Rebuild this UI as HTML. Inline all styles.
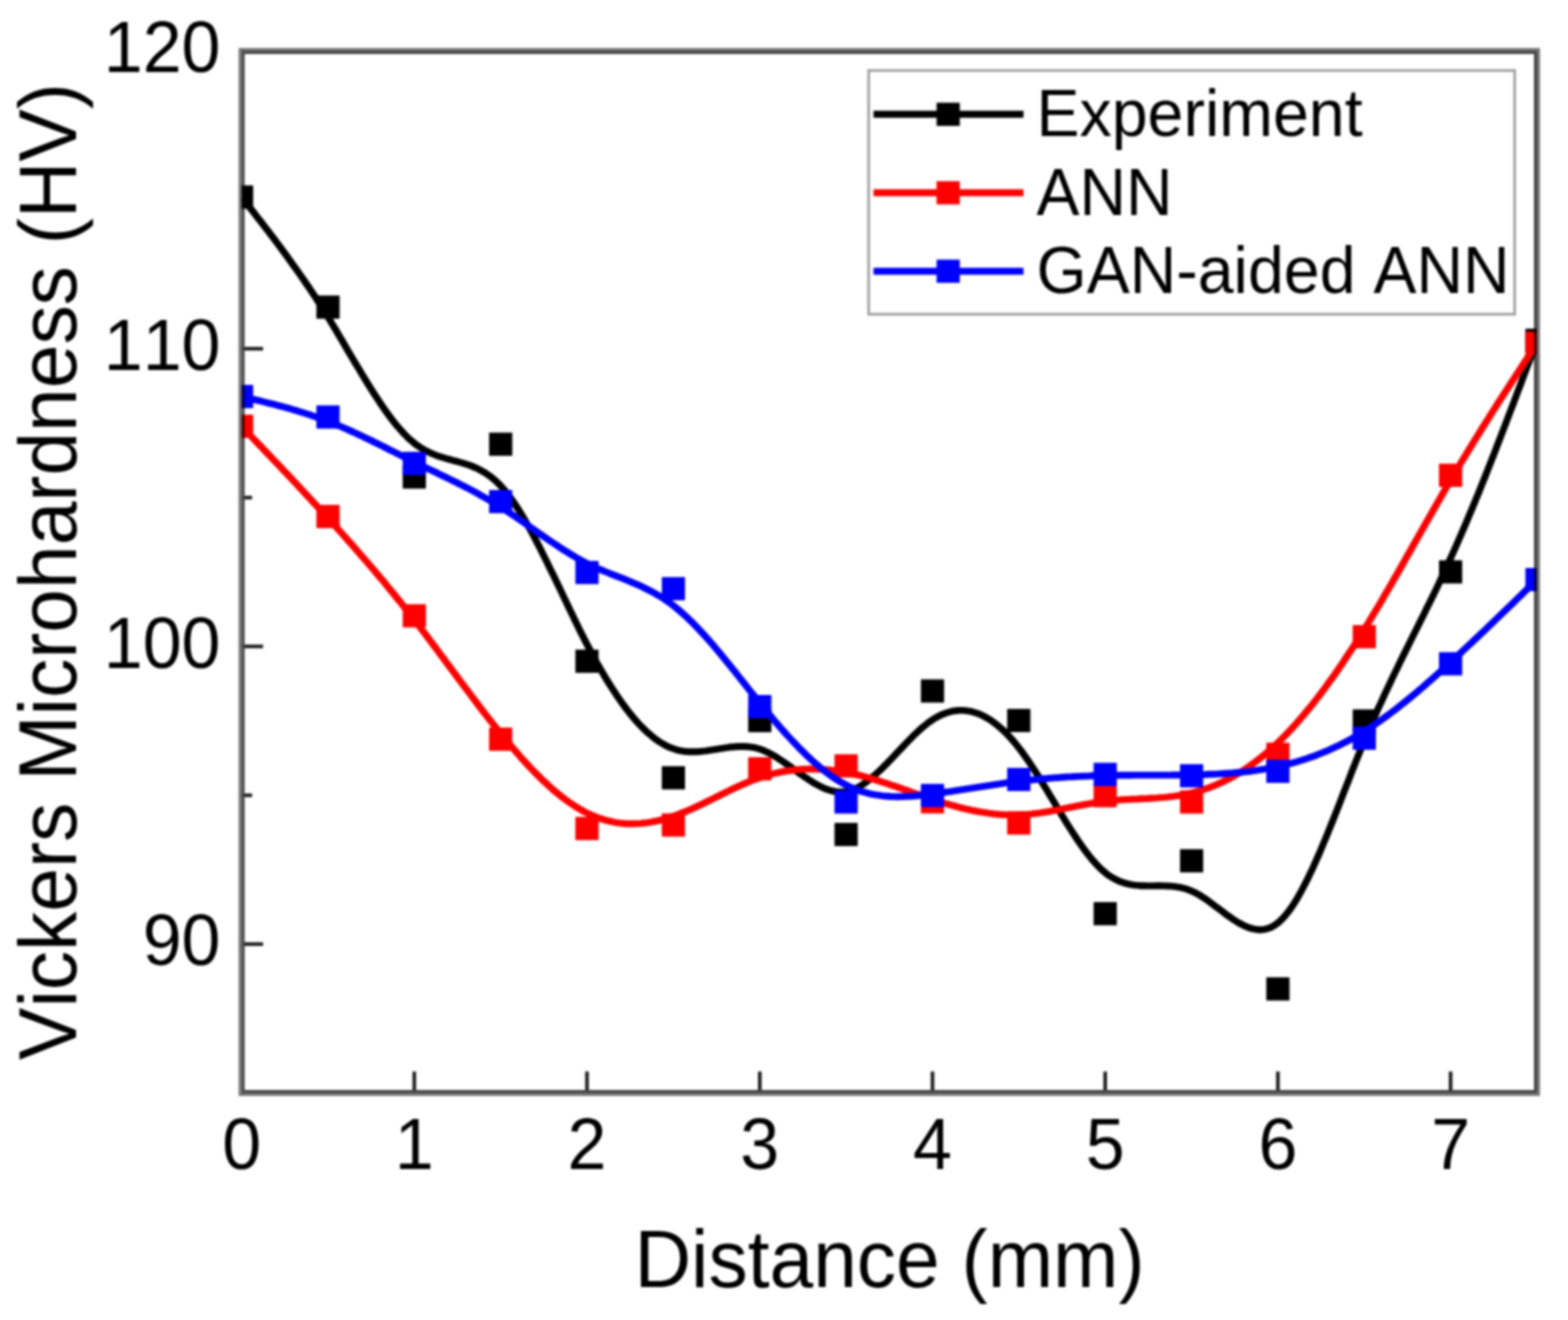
<!DOCTYPE html>
<html lang="en"><head><meta charset="utf-8"><title>Vickers Microhardness vs Distance</title>
<style>html,body{margin:0;padding:0;background:#fff}svg{display:block;filter:blur(0.8px)}text{font-kerning:none}</style></head>
<body>
<svg width="1568" height="1320" viewBox="0 0 1568 1320">
<rect width="1568" height="1320" fill="#fff"/>
<defs><clipPath id="pc"><rect x="241.6" y="51.0" width="1295.4" height="1042.0"/></clipPath></defs>
<line x1="241.6" y1="348.7" x2="263.1" y2="348.7" stroke="#1c1c1c" stroke-width="3.6"/>
<line x1="241.6" y1="646.4" x2="263.1" y2="646.4" stroke="#1c1c1c" stroke-width="3.6"/>
<line x1="241.6" y1="944.1" x2="263.1" y2="944.1" stroke="#1c1c1c" stroke-width="3.6"/>
<line x1="241.6" y1="199.9" x2="252.1" y2="199.9" stroke="#1c1c1c" stroke-width="3.6"/>
<line x1="241.6" y1="497.6" x2="252.1" y2="497.6" stroke="#1c1c1c" stroke-width="3.6"/>
<line x1="241.6" y1="795.3" x2="252.1" y2="795.3" stroke="#1c1c1c" stroke-width="3.6"/>
<line x1="414.3" y1="1093.0" x2="414.3" y2="1071.5" stroke="#1c1c1c" stroke-width="3.6"/>
<line x1="587.0" y1="1093.0" x2="587.0" y2="1071.5" stroke="#1c1c1c" stroke-width="3.6"/>
<line x1="759.8" y1="1093.0" x2="759.8" y2="1071.5" stroke="#1c1c1c" stroke-width="3.6"/>
<line x1="932.5" y1="1093.0" x2="932.5" y2="1071.5" stroke="#1c1c1c" stroke-width="3.6"/>
<line x1="1105.2" y1="1093.0" x2="1105.2" y2="1071.5" stroke="#1c1c1c" stroke-width="3.6"/>
<line x1="1277.9" y1="1093.0" x2="1277.9" y2="1071.5" stroke="#1c1c1c" stroke-width="3.6"/>
<line x1="1450.6" y1="1093.0" x2="1450.6" y2="1071.5" stroke="#1c1c1c" stroke-width="3.6"/>
<rect x="240.1" y="49.5" width="1298.4" height="1045.0" fill="none" stroke="#767676" stroke-width="3"/>
<rect x="243.1" y="52.5" width="1292.4" height="1039.0" fill="none" stroke="#444" stroke-width="3"/>
<g clip-path="url(#pc)" style="mix-blend-mode:multiply">
<path d="M241.6,197.0 L244.8,201.1 L248.1,205.3 L251.3,209.4 L254.6,213.6 L257.8,217.8 L261.1,221.9 L264.3,226.2 L267.6,230.4 L270.8,234.6 L274.1,238.9 L277.3,243.2 L280.6,247.6 L283.8,252.0 L287.1,256.4 L290.3,260.9 L293.5,265.4 L296.8,270.0 L300.0,274.6 L303.3,279.3 L306.5,284.0 L309.8,288.8 L313.0,293.7 L316.3,298.6 L319.5,303.7 L322.8,308.8 L326.0,313.9 L329.3,319.2 L332.5,324.5 L335.8,329.9 L339.0,335.4 L342.2,340.8 L345.5,346.4 L348.7,351.9 L352.0,357.4 L355.2,362.9 L358.5,368.3 L361.7,373.8 L365.0,379.1 L368.2,384.4 L371.5,389.6 L374.7,394.7 L378.0,399.7 L381.2,404.5 L384.5,409.2 L387.7,413.7 L390.9,418.1 L394.2,422.3 L397.4,426.3 L400.7,430.0 L403.9,433.6 L407.2,436.9 L410.4,439.9 L413.7,442.7 L416.9,445.2 L420.2,447.4 L423.4,449.4 L426.7,451.2 L429.9,452.7 L433.2,454.1 L436.4,455.4 L439.6,456.5 L442.9,457.5 L446.1,458.5 L449.4,459.4 L452.6,460.3 L455.9,461.1 L459.1,462.0 L462.4,463.0 L465.6,464.0 L468.9,465.1 L472.1,466.3 L475.4,467.7 L478.6,469.2 L481.8,470.9 L485.1,472.8 L488.3,475.0 L491.6,477.4 L494.8,480.1 L498.1,483.2 L501.3,486.5 L504.6,490.2 L507.8,494.3 L511.1,498.6 L514.3,503.3 L517.6,508.2 L520.8,513.3 L524.1,518.8 L527.3,524.4 L530.5,530.2 L533.8,536.2 L537.0,542.4 L540.3,548.7 L543.5,555.2 L546.8,561.7 L550.0,568.4 L553.3,575.1 L556.5,581.8 L559.8,588.6 L563.0,595.4 L566.3,602.2 L569.5,609.0 L572.8,615.8 L576.0,622.4 L579.2,629.1 L582.5,635.6 L585.7,641.9 L589.0,648.2 L592.2,654.3 L595.5,660.3 L598.7,666.1 L602.0,671.7 L605.2,677.2 L608.5,682.6 L611.7,687.7 L615.0,692.7 L618.2,697.6 L621.5,702.2 L624.7,706.6 L627.9,710.9 L631.2,715.0 L634.4,718.9 L637.7,722.6 L640.9,726.0 L644.2,729.3 L647.4,732.4 L650.7,735.2 L653.9,737.9 L657.2,740.3 L660.4,742.4 L663.7,744.4 L666.9,746.1 L670.2,747.6 L673.4,748.8 L676.6,749.8 L679.9,750.6 L683.1,751.2 L686.4,751.5 L689.6,751.7 L692.9,751.8 L696.1,751.7 L699.4,751.5 L702.6,751.2 L705.9,750.8 L709.1,750.3 L712.4,749.8 L715.6,749.3 L718.9,748.8 L722.1,748.3 L725.3,747.8 L728.6,747.3 L731.8,747.0 L735.1,746.7 L738.3,746.5 L741.6,746.4 L744.8,746.5 L748.1,746.7 L751.3,747.1 L754.6,747.7 L757.8,748.5 L761.1,749.6 L764.3,750.8 L767.6,752.3 L770.8,754.0 L774.0,755.8 L777.3,757.8 L780.5,759.9 L783.8,762.1 L787.0,764.4 L790.3,766.7 L793.5,769.0 L796.8,771.4 L800.0,773.7 L803.3,776.0 L806.5,778.2 L809.8,780.3 L813.0,782.4 L816.3,784.3 L819.5,786.0 L822.7,787.6 L826.0,789.0 L829.2,790.1 L832.5,791.0 L835.7,791.6 L839.0,792.0 L842.2,792.0 L845.5,791.7 L848.7,791.0 L852.0,790.0 L855.2,788.7 L858.5,787.1 L861.7,785.2 L865.0,783.0 L868.2,780.6 L871.4,778.0 L874.7,775.2 L877.9,772.3 L881.2,769.2 L884.4,766.0 L887.7,762.7 L890.9,759.3 L894.2,755.9 L897.4,752.4 L900.7,749.0 L903.9,745.6 L907.2,742.2 L910.4,738.9 L913.6,735.6 L916.9,732.5 L920.1,729.5 L923.4,726.7 L926.6,724.1 L929.9,721.6 L933.1,719.4 L936.4,717.4 L939.6,715.7 L942.9,714.2 L946.1,713.0 L949.4,712.0 L952.6,711.2 L955.9,710.7 L959.1,710.4 L962.3,710.4 L965.6,710.6 L968.8,711.1 L972.1,711.7 L975.3,712.7 L978.6,713.8 L981.8,715.2 L985.1,716.9 L988.3,718.7 L991.6,720.8 L994.8,723.2 L998.1,725.8 L1001.3,728.6 L1004.6,731.6 L1007.8,734.9 L1011.0,738.4 L1014.3,742.1 L1017.5,746.1 L1020.8,750.3 L1024.0,754.8 L1027.3,759.4 L1030.5,764.2 L1033.8,769.1 L1037.0,774.2 L1040.3,779.4 L1043.5,784.7 L1046.8,790.0 L1050.0,795.4 L1053.3,800.8 L1056.5,806.2 L1059.7,811.6 L1063.0,817.0 L1066.2,822.3 L1069.5,827.5 L1072.7,832.5 L1076.0,837.5 L1079.2,842.3 L1082.5,846.9 L1085.7,851.4 L1089.0,855.6 L1092.2,859.6 L1095.5,863.3 L1098.7,866.7 L1102.0,869.9 L1105.2,872.7 L1108.4,875.2 L1111.7,877.3 L1114.9,879.1 L1118.2,880.7 L1121.4,882.0 L1124.7,883.1 L1127.9,883.9 L1131.2,884.6 L1134.4,885.1 L1137.7,885.4 L1140.9,885.7 L1144.2,885.8 L1147.4,885.9 L1150.7,885.9 L1153.9,885.9 L1157.1,885.8 L1160.4,885.8 L1163.6,885.9 L1166.9,886.0 L1170.1,886.1 L1173.4,886.4 L1176.6,886.8 L1179.9,887.4 L1183.1,888.1 L1186.4,889.0 L1189.6,890.2 L1192.9,891.6 L1196.1,893.2 L1199.4,895.0 L1202.6,897.1 L1205.8,899.2 L1209.1,901.5 L1212.3,903.9 L1215.6,906.4 L1218.8,908.8 L1222.1,911.3 L1225.3,913.8 L1228.6,916.1 L1231.8,918.4 L1235.1,920.6 L1238.3,922.6 L1241.6,924.4 L1244.8,926.0 L1248.1,927.4 L1251.3,928.4 L1254.5,929.2 L1257.8,929.7 L1261.0,929.7 L1264.3,929.4 L1267.5,928.6 L1270.8,927.4 L1274.0,925.7 L1277.3,923.4 L1280.5,920.6 L1283.8,917.3 L1287.0,913.4 L1290.3,909.1 L1293.5,904.3 L1296.8,899.1 L1300.0,893.5 L1303.2,887.5 L1306.5,881.2 L1309.7,874.6 L1313.0,867.6 L1316.2,860.4 L1319.5,853.0 L1322.7,845.3 L1326.0,837.5 L1329.2,829.5 L1332.5,821.4 L1335.7,813.2 L1339.0,804.9 L1342.2,796.5 L1345.4,788.2 L1348.7,779.9 L1351.9,771.5 L1355.2,763.3 L1358.4,755.2 L1361.7,747.1 L1364.9,739.2 L1368.2,731.5 L1371.4,723.9 L1374.7,716.5 L1377.9,709.2 L1381.2,702.1 L1384.4,695.0 L1387.7,688.1 L1390.9,681.2 L1394.1,674.4 L1397.4,667.7 L1400.6,661.0 L1403.9,654.4 L1407.1,647.9 L1410.4,641.3 L1413.6,634.8 L1416.9,628.3 L1420.1,621.7 L1423.4,615.2 L1426.6,608.6 L1429.9,602.0 L1433.1,595.4 L1436.4,588.7 L1439.6,581.9 L1442.8,575.0 L1446.1,568.1 L1449.3,561.0 L1452.6,553.8 L1455.8,546.6 L1459.1,539.2 L1462.3,531.7 L1465.6,524.1 L1468.8,516.4 L1472.1,508.6 L1475.3,500.7 L1478.6,492.8 L1481.8,484.7 L1485.1,476.6 L1488.3,468.4 L1491.5,460.2 L1494.8,451.9 L1498.0,443.5 L1501.3,435.1 L1504.5,426.6 L1507.8,418.1 L1511.0,409.6 L1514.3,401.0 L1517.5,392.4 L1520.8,383.7 L1524.0,375.1 L1527.3,366.4 L1530.5,357.7 L1533.8,349.0 L1537.0,340.3" fill="none" stroke="#000" stroke-width="6.9" stroke-linejoin="round"/>
<rect x="230.0" y="185.4" width="23.2" height="23.2" fill="#000"/>
<rect x="316.4" y="295.5" width="23.2" height="23.2" fill="#000"/>
<rect x="402.7" y="465.4" width="23.2" height="23.2" fill="#000"/>
<rect x="489.1" y="432.6" width="23.2" height="23.2" fill="#000"/>
<rect x="575.4" y="649.6" width="23.2" height="23.2" fill="#000"/>
<rect x="661.8" y="766.2" width="23.2" height="23.2" fill="#000"/>
<rect x="748.2" y="709.0" width="23.2" height="23.2" fill="#000"/>
<rect x="834.5" y="822.9" width="23.2" height="23.2" fill="#000"/>
<rect x="920.9" y="679.4" width="23.2" height="23.2" fill="#000"/>
<rect x="1007.2" y="708.9" width="23.2" height="23.2" fill="#000"/>
<rect x="1093.6" y="902.1" width="23.2" height="23.2" fill="#000"/>
<rect x="1180.0" y="849.2" width="23.2" height="23.2" fill="#000"/>
<rect x="1266.3" y="977.3" width="23.2" height="23.2" fill="#000"/>
<rect x="1352.7" y="709.4" width="23.2" height="23.2" fill="#000"/>
<rect x="1439.0" y="560.3" width="23.2" height="23.2" fill="#000"/>
<rect x="1525.4" y="328.7" width="23.2" height="23.2" fill="#000"/>
<path d="M241.6,426.3 L244.8,429.7 L248.1,433.1 L251.3,436.5 L254.6,439.9 L257.8,443.3 L261.1,446.7 L264.3,450.1 L267.6,453.5 L270.8,456.9 L274.1,460.3 L277.3,463.7 L280.6,467.1 L283.8,470.6 L287.1,474.0 L290.3,477.4 L293.5,480.9 L296.8,484.3 L300.0,487.8 L303.3,491.3 L306.5,494.8 L309.8,498.3 L313.0,501.8 L316.3,505.3 L319.5,508.8 L322.8,512.3 L326.0,515.9 L329.3,519.4 L332.5,523.0 L335.8,526.6 L339.0,530.2 L342.2,533.8 L345.5,537.5 L348.7,541.1 L352.0,544.8 L355.2,548.5 L358.5,552.2 L361.7,555.9 L365.0,559.7 L368.2,563.4 L371.5,567.2 L374.7,571.0 L378.0,574.9 L381.2,578.7 L384.5,582.6 L387.7,586.6 L390.9,590.5 L394.2,594.5 L397.4,598.5 L400.7,602.5 L403.9,606.6 L407.2,610.7 L410.4,614.8 L413.7,619.0 L416.9,623.2 L420.2,627.4 L423.4,631.7 L426.7,635.9 L429.9,640.2 L433.2,644.6 L436.4,648.9 L439.6,653.3 L442.9,657.6 L446.1,662.0 L449.4,666.4 L452.6,670.7 L455.9,675.1 L459.1,679.5 L462.4,683.8 L465.6,688.2 L468.9,692.5 L472.1,696.8 L475.4,701.1 L478.6,705.4 L481.8,709.6 L485.1,713.8 L488.3,718.0 L491.6,722.1 L494.8,726.2 L498.1,730.3 L501.3,734.3 L504.6,738.3 L507.8,742.2 L511.1,746.0 L514.3,749.8 L517.6,753.6 L520.8,757.3 L524.1,760.9 L527.3,764.4 L530.5,767.9 L533.8,771.2 L537.0,774.5 L540.3,777.8 L543.5,780.9 L546.8,783.9 L550.0,786.9 L553.3,789.8 L556.5,792.5 L559.8,795.2 L563.0,797.7 L566.3,800.2 L569.5,802.5 L572.8,804.7 L576.0,806.8 L579.2,808.8 L582.5,810.6 L585.7,812.4 L589.0,814.0 L592.2,815.4 L595.5,816.8 L598.7,818.0 L602.0,819.1 L605.2,820.1 L608.5,820.9 L611.7,821.7 L615.0,822.3 L618.2,822.8 L621.5,823.2 L624.7,823.5 L627.9,823.7 L631.2,823.7 L634.4,823.7 L637.7,823.6 L640.9,823.4 L644.2,823.0 L647.4,822.6 L650.7,822.1 L653.9,821.5 L657.2,820.9 L660.4,820.1 L663.7,819.2 L666.9,818.3 L670.2,817.3 L673.4,816.2 L676.6,815.1 L679.9,813.8 L683.1,812.5 L686.4,811.2 L689.6,809.8 L692.9,808.3 L696.1,806.9 L699.4,805.3 L702.6,803.8 L705.9,802.2 L709.1,800.6 L712.4,799.0 L715.6,797.4 L718.9,795.8 L722.1,794.2 L725.3,792.6 L728.6,791.0 L731.8,789.4 L735.1,787.9 L738.3,786.4 L741.6,784.9 L744.8,783.5 L748.1,782.1 L751.3,780.8 L754.6,779.6 L757.8,778.4 L761.1,777.2 L764.3,776.2 L767.6,775.2 L770.8,774.3 L774.0,773.5 L777.3,772.8 L780.5,772.1 L783.8,771.5 L787.0,770.9 L790.3,770.5 L793.5,770.1 L796.8,769.7 L800.0,769.5 L803.3,769.3 L806.5,769.1 L809.8,769.0 L813.0,769.0 L816.3,769.1 L819.5,769.2 L822.7,769.4 L826.0,769.6 L829.2,769.9 L832.5,770.3 L835.7,770.7 L839.0,771.1 L842.2,771.7 L845.5,772.2 L848.7,772.9 L852.0,773.6 L855.2,774.3 L858.5,775.1 L861.7,775.9 L865.0,776.8 L868.2,777.7 L871.4,778.6 L874.7,779.6 L877.9,780.6 L881.2,781.7 L884.4,782.7 L887.7,783.8 L890.9,784.9 L894.2,786.0 L897.4,787.1 L900.7,788.3 L903.9,789.4 L907.2,790.6 L910.4,791.7 L913.6,792.9 L916.9,794.0 L920.1,795.1 L923.4,796.3 L926.6,797.4 L929.9,798.5 L933.1,799.6 L936.4,800.6 L939.6,801.7 L942.9,802.7 L946.1,803.7 L949.4,804.6 L952.6,805.5 L955.9,806.4 L959.1,807.3 L962.3,808.1 L965.6,808.9 L968.8,809.6 L972.1,810.4 L975.3,811.0 L978.6,811.6 L981.8,812.2 L985.1,812.7 L988.3,813.2 L991.6,813.6 L994.8,814.0 L998.1,814.3 L1001.3,814.6 L1004.6,814.8 L1007.8,814.9 L1011.0,815.0 L1014.3,815.0 L1017.5,815.0 L1020.8,814.8 L1024.0,814.6 L1027.3,814.4 L1030.5,814.1 L1033.8,813.7 L1037.0,813.3 L1040.3,812.9 L1043.5,812.4 L1046.8,811.9 L1050.0,811.3 L1053.3,810.7 L1056.5,810.1 L1059.7,809.5 L1063.0,808.8 L1066.2,808.2 L1069.5,807.5 L1072.7,806.9 L1076.0,806.2 L1079.2,805.6 L1082.5,805.0 L1085.7,804.4 L1089.0,803.8 L1092.2,803.2 L1095.5,802.7 L1098.7,802.2 L1102.0,801.7 L1105.2,801.3 L1108.4,800.9 L1111.7,800.6 L1114.9,800.3 L1118.2,800.1 L1121.4,799.8 L1124.7,799.6 L1127.9,799.4 L1131.2,799.3 L1134.4,799.1 L1137.7,799.0 L1140.9,798.8 L1144.2,798.6 L1147.4,798.5 L1150.7,798.3 L1153.9,798.1 L1157.1,797.9 L1160.4,797.6 L1163.6,797.4 L1166.9,797.1 L1170.1,796.7 L1173.4,796.3 L1176.6,795.8 L1179.9,795.3 L1183.1,794.8 L1186.4,794.2 L1189.6,793.5 L1192.9,792.7 L1196.1,791.8 L1199.4,790.9 L1202.6,789.9 L1205.8,788.8 L1209.1,787.7 L1212.3,786.4 L1215.6,785.1 L1218.8,783.7 L1222.1,782.2 L1225.3,780.6 L1228.6,779.0 L1231.8,777.2 L1235.1,775.4 L1238.3,773.5 L1241.6,771.5 L1244.8,769.4 L1248.1,767.2 L1251.3,764.9 L1254.5,762.5 L1257.8,760.0 L1261.0,757.5 L1264.3,754.8 L1267.5,752.1 L1270.8,749.2 L1274.0,746.3 L1277.3,743.3 L1280.5,740.1 L1283.8,736.9 L1287.0,733.6 L1290.3,730.1 L1293.5,726.6 L1296.8,723.0 L1300.0,719.3 L1303.2,715.5 L1306.5,711.6 L1309.7,707.7 L1313.0,703.6 L1316.2,699.5 L1319.5,695.3 L1322.7,691.0 L1326.0,686.6 L1329.2,682.1 L1332.5,677.6 L1335.7,673.0 L1339.0,668.3 L1342.2,663.6 L1345.4,658.7 L1348.7,653.8 L1351.9,648.9 L1355.2,643.8 L1358.4,638.7 L1361.7,633.6 L1364.9,628.3 L1368.2,623.1 L1371.4,617.7 L1374.7,612.3 L1377.9,606.9 L1381.2,601.4 L1384.4,595.8 L1387.7,590.3 L1390.9,584.7 L1394.1,579.0 L1397.4,573.4 L1400.6,567.7 L1403.9,562.0 L1407.1,556.3 L1410.4,550.5 L1413.6,544.8 L1416.9,539.1 L1420.1,533.3 L1423.4,527.6 L1426.6,521.9 L1429.9,516.2 L1433.1,510.5 L1436.4,504.8 L1439.6,499.2 L1442.8,493.5 L1446.1,487.9 L1449.3,482.4 L1452.6,476.9 L1455.8,471.4 L1459.1,466.0 L1462.3,460.6 L1465.6,455.2 L1468.8,449.9 L1472.1,444.6 L1475.3,439.3 L1478.6,434.1 L1481.8,428.9 L1485.1,423.7 L1488.3,418.6 L1491.5,413.4 L1494.8,408.3 L1498.0,403.2 L1501.3,398.2 L1504.5,393.1 L1507.8,388.1 L1511.0,383.1 L1514.3,378.1 L1517.5,373.1 L1520.8,368.1 L1524.0,363.1 L1527.3,358.1 L1530.5,353.1 L1533.8,348.2 L1537.0,343.2" fill="none" stroke="#ff0000" stroke-width="6.9" stroke-linejoin="round"/>
<rect x="230.0" y="414.7" width="23.2" height="23.2" fill="#ff0000"/>
<rect x="316.4" y="504.9" width="23.2" height="23.2" fill="#ff0000"/>
<rect x="402.7" y="604.2" width="23.2" height="23.2" fill="#ff0000"/>
<rect x="489.1" y="727.6" width="23.2" height="23.2" fill="#ff0000"/>
<rect x="575.4" y="816.9" width="23.2" height="23.2" fill="#ff0000"/>
<rect x="661.8" y="813.4" width="23.2" height="23.2" fill="#ff0000"/>
<rect x="748.2" y="757.2" width="23.2" height="23.2" fill="#ff0000"/>
<rect x="834.5" y="754.3" width="23.2" height="23.2" fill="#ff0000"/>
<rect x="920.9" y="790.2" width="23.2" height="23.2" fill="#ff0000"/>
<rect x="1007.2" y="811.4" width="23.2" height="23.2" fill="#ff0000"/>
<rect x="1093.6" y="784.1" width="23.2" height="23.2" fill="#ff0000"/>
<rect x="1180.0" y="790.4" width="23.2" height="23.2" fill="#ff0000"/>
<rect x="1266.3" y="742.7" width="23.2" height="23.2" fill="#ff0000"/>
<rect x="1352.7" y="625.1" width="23.2" height="23.2" fill="#ff0000"/>
<rect x="1439.0" y="463.7" width="23.2" height="23.2" fill="#ff0000"/>
<rect x="1525.4" y="331.6" width="23.2" height="23.2" fill="#ff0000"/>
<path d="M241.6,396.5 L244.8,397.3 L248.1,398.0 L251.3,398.8 L254.6,399.6 L257.8,400.4 L261.1,401.2 L264.3,402.0 L267.6,402.8 L270.8,403.6 L274.1,404.4 L277.3,405.3 L280.6,406.1 L283.8,407.0 L287.1,407.9 L290.3,408.8 L293.5,409.8 L296.8,410.7 L300.0,411.7 L303.3,412.7 L306.5,413.7 L309.8,414.8 L313.0,415.9 L316.3,417.0 L319.5,418.2 L322.8,419.4 L326.0,420.6 L329.3,421.8 L332.5,423.1 L335.8,424.4 L339.0,425.8 L342.2,427.2 L345.5,428.6 L348.7,430.0 L352.0,431.5 L355.2,433.0 L358.5,434.5 L361.7,436.0 L365.0,437.6 L368.2,439.1 L371.5,440.7 L374.7,442.3 L378.0,443.9 L381.2,445.5 L384.5,447.1 L387.7,448.8 L390.9,450.4 L394.2,452.0 L397.4,453.6 L400.7,455.3 L403.9,456.9 L407.2,458.5 L410.4,460.1 L413.7,461.7 L416.9,463.3 L420.2,464.9 L423.4,466.4 L426.7,468.0 L429.9,469.6 L433.2,471.1 L436.4,472.7 L439.6,474.3 L442.9,475.8 L446.1,477.4 L449.4,479.0 L452.6,480.6 L455.9,482.2 L459.1,483.8 L462.4,485.5 L465.6,487.1 L468.9,488.8 L472.1,490.5 L475.4,492.3 L478.6,494.1 L481.8,495.9 L485.1,497.7 L488.3,499.6 L491.6,501.5 L494.8,503.4 L498.1,505.4 L501.3,507.5 L504.6,509.5 L507.8,511.7 L511.1,513.8 L514.3,516.0 L517.6,518.2 L520.8,520.5 L524.1,522.7 L527.3,525.0 L530.5,527.3 L533.8,529.6 L537.0,531.8 L540.3,534.1 L543.5,536.4 L546.8,538.6 L550.0,540.8 L553.3,543.0 L556.5,545.2 L559.8,547.4 L563.0,549.5 L566.3,551.5 L569.5,553.5 L572.8,555.5 L576.0,557.4 L579.2,559.2 L582.5,561.0 L585.7,562.7 L589.0,564.4 L592.2,565.9 L595.5,567.4 L598.7,568.8 L602.0,570.2 L605.2,571.6 L608.5,572.9 L611.7,574.2 L615.0,575.5 L618.2,576.8 L621.5,578.0 L624.7,579.3 L627.9,580.6 L631.2,582.0 L634.4,583.4 L637.7,584.8 L640.9,586.2 L644.2,587.8 L647.4,589.4 L650.7,591.1 L653.9,592.8 L657.2,594.7 L660.4,596.6 L663.7,598.7 L666.9,600.9 L670.2,603.2 L673.4,605.6 L676.6,608.2 L679.9,611.0 L683.1,613.8 L686.4,616.8 L689.6,619.9 L692.9,623.1 L696.1,626.4 L699.4,629.9 L702.6,633.4 L705.9,636.9 L709.1,640.6 L712.4,644.3 L715.6,648.1 L718.9,652.0 L722.1,655.9 L725.3,659.9 L728.6,663.9 L731.8,667.9 L735.1,671.9 L738.3,676.0 L741.6,680.1 L744.8,684.2 L748.1,688.3 L751.3,692.3 L754.6,696.4 L757.8,700.4 L761.1,704.5 L764.3,708.4 L767.6,712.4 L770.8,716.3 L774.0,720.1 L777.3,723.9 L780.5,727.7 L783.8,731.4 L787.0,735.0 L790.3,738.5 L793.5,742.0 L796.8,745.4 L800.0,748.8 L803.3,752.0 L806.5,755.2 L809.8,758.3 L813.0,761.2 L816.3,764.1 L819.5,766.9 L822.7,769.5 L826.0,772.1 L829.2,774.5 L832.5,776.8 L835.7,779.0 L839.0,781.0 L842.2,782.9 L845.5,784.7 L848.7,786.3 L852.0,787.8 L855.2,789.1 L858.5,790.4 L861.7,791.5 L865.0,792.4 L868.2,793.3 L871.4,794.1 L874.7,794.7 L877.9,795.2 L881.2,795.7 L884.4,796.1 L887.7,796.3 L890.9,796.5 L894.2,796.6 L897.4,796.7 L900.7,796.6 L903.9,796.6 L907.2,796.4 L910.4,796.2 L913.6,796.0 L916.9,795.7 L920.1,795.4 L923.4,795.0 L926.6,794.7 L929.9,794.3 L933.1,793.8 L936.4,793.4 L939.6,793.0 L942.9,792.5 L946.1,792.0 L949.4,791.6 L952.6,791.1 L955.9,790.6 L959.1,790.1 L962.3,789.6 L965.6,789.1 L968.8,788.6 L972.1,788.1 L975.3,787.6 L978.6,787.1 L981.8,786.6 L985.1,786.1 L988.3,785.6 L991.6,785.1 L994.8,784.6 L998.1,784.1 L1001.3,783.7 L1004.6,783.2 L1007.8,782.7 L1011.0,782.3 L1014.3,781.9 L1017.5,781.5 L1020.8,781.1 L1024.0,780.7 L1027.3,780.3 L1030.5,780.0 L1033.8,779.7 L1037.0,779.3 L1040.3,779.0 L1043.5,778.7 L1046.8,778.5 L1050.0,778.2 L1053.3,777.9 L1056.5,777.7 L1059.7,777.5 L1063.0,777.2 L1066.2,777.0 L1069.5,776.9 L1072.7,776.7 L1076.0,776.5 L1079.2,776.4 L1082.5,776.2 L1085.7,776.1 L1089.0,776.0 L1092.2,775.8 L1095.5,775.7 L1098.7,775.6 L1102.0,775.6 L1105.2,775.5 L1108.4,775.4 L1111.7,775.4 L1114.9,775.3 L1118.2,775.3 L1121.4,775.2 L1124.7,775.2 L1127.9,775.2 L1131.2,775.2 L1134.4,775.1 L1137.7,775.1 L1140.9,775.1 L1144.2,775.1 L1147.4,775.1 L1150.7,775.1 L1153.9,775.1 L1157.1,775.1 L1160.4,775.1 L1163.6,775.1 L1166.9,775.1 L1170.1,775.1 L1173.4,775.0 L1176.6,775.0 L1179.9,775.0 L1183.1,774.9 L1186.4,774.9 L1189.6,774.9 L1192.9,774.8 L1196.1,774.7 L1199.4,774.7 L1202.6,774.6 L1205.8,774.5 L1209.1,774.3 L1212.3,774.2 L1215.6,774.1 L1218.8,773.9 L1222.1,773.7 L1225.3,773.5 L1228.6,773.3 L1231.8,773.1 L1235.1,772.8 L1238.3,772.5 L1241.6,772.2 L1244.8,771.9 L1248.1,771.5 L1251.3,771.1 L1254.5,770.6 L1257.8,770.2 L1261.0,769.7 L1264.3,769.2 L1267.5,768.6 L1270.8,768.0 L1274.0,767.4 L1277.3,766.7 L1280.5,766.0 L1283.8,765.2 L1287.0,764.4 L1290.3,763.5 L1293.5,762.7 L1296.8,761.7 L1300.0,760.8 L1303.2,759.7 L1306.5,758.7 L1309.7,757.6 L1313.0,756.4 L1316.2,755.2 L1319.5,753.9 L1322.7,752.6 L1326.0,751.3 L1329.2,749.9 L1332.5,748.4 L1335.7,746.9 L1339.0,745.4 L1342.2,743.7 L1345.4,742.1 L1348.7,740.4 L1351.9,738.6 L1355.2,736.7 L1358.4,734.9 L1361.7,732.9 L1364.9,730.9 L1368.2,728.9 L1371.4,726.7 L1374.7,724.6 L1377.9,722.3 L1381.2,720.1 L1384.4,717.7 L1387.7,715.4 L1390.9,712.9 L1394.1,710.5 L1397.4,708.0 L1400.6,705.4 L1403.9,702.8 L1407.1,700.2 L1410.4,697.5 L1413.6,694.8 L1416.9,692.1 L1420.1,689.3 L1423.4,686.6 L1426.6,683.7 L1429.9,680.9 L1433.1,678.0 L1436.4,675.1 L1439.6,672.2 L1442.8,669.3 L1446.1,666.3 L1449.3,663.4 L1452.6,660.4 L1455.8,657.4 L1459.1,654.4 L1462.3,651.3 L1465.6,648.3 L1468.8,645.3 L1472.1,642.2 L1475.3,639.1 L1478.6,636.1 L1481.8,633.0 L1485.1,629.9 L1488.3,626.8 L1491.5,623.7 L1494.8,620.6 L1498.0,617.4 L1501.3,614.3 L1504.5,611.2 L1507.8,608.0 L1511.0,604.9 L1514.3,601.7 L1517.5,598.6 L1520.8,595.4 L1524.0,592.3 L1527.3,589.1 L1530.5,585.9 L1533.8,582.8 L1537.0,579.6" fill="none" stroke="#0000ff" stroke-width="6.9" stroke-linejoin="round"/>
<rect x="230.0" y="384.9" width="23.2" height="23.2" fill="#0000ff"/>
<rect x="316.4" y="405.4" width="23.2" height="23.2" fill="#0000ff"/>
<rect x="402.7" y="451.8" width="23.2" height="23.2" fill="#0000ff"/>
<rect x="489.1" y="490.0" width="23.2" height="23.2" fill="#0000ff"/>
<rect x="575.4" y="560.9" width="23.2" height="23.2" fill="#0000ff"/>
<rect x="661.8" y="577.1" width="23.2" height="23.2" fill="#0000ff"/>
<rect x="748.2" y="695.0" width="23.2" height="23.2" fill="#0000ff"/>
<rect x="834.5" y="790.4" width="23.2" height="23.2" fill="#0000ff"/>
<rect x="920.9" y="783.9" width="23.2" height="23.2" fill="#0000ff"/>
<rect x="1007.2" y="767.9" width="23.2" height="23.2" fill="#0000ff"/>
<rect x="1093.6" y="762.8" width="23.2" height="23.2" fill="#0000ff"/>
<rect x="1180.0" y="764.2" width="23.2" height="23.2" fill="#0000ff"/>
<rect x="1266.3" y="759.7" width="23.2" height="23.2" fill="#0000ff"/>
<rect x="1352.7" y="726.6" width="23.2" height="23.2" fill="#0000ff"/>
<rect x="1439.0" y="652.2" width="23.2" height="23.2" fill="#0000ff"/>
<rect x="1525.4" y="568.0" width="23.2" height="23.2" fill="#0000ff"/>
</g>
<text transform="translate(220.5,72.2) scale(1,1.028)" text-anchor="end" font-size="70" font-family="'Liberation Sans', Arial, sans-serif" fill="#000">120</text>
<text transform="translate(220.5,369.9) scale(1,1.028)" text-anchor="end" font-size="70" font-family="'Liberation Sans', Arial, sans-serif" fill="#000">110</text>
<text transform="translate(220.5,667.6) scale(1,1.028)" text-anchor="end" font-size="70" font-family="'Liberation Sans', Arial, sans-serif" fill="#000">100</text>
<text transform="translate(220.5,965.3) scale(1,1.028)" text-anchor="end" font-size="70" font-family="'Liberation Sans', Arial, sans-serif" fill="#000">90</text>
<text transform="translate(241.6,1169.4) scale(1,1.028)" text-anchor="middle" font-size="70" font-family="'Liberation Sans', Arial, sans-serif" fill="#000">0</text>
<text transform="translate(414.3,1169.4) scale(1,1.028)" text-anchor="middle" font-size="70" font-family="'Liberation Sans', Arial, sans-serif" fill="#000">1</text>
<text transform="translate(587.0,1169.4) scale(1,1.028)" text-anchor="middle" font-size="70" font-family="'Liberation Sans', Arial, sans-serif" fill="#000">2</text>
<text transform="translate(759.8,1169.4) scale(1,1.028)" text-anchor="middle" font-size="70" font-family="'Liberation Sans', Arial, sans-serif" fill="#000">3</text>
<text transform="translate(932.5,1169.4) scale(1,1.028)" text-anchor="middle" font-size="70" font-family="'Liberation Sans', Arial, sans-serif" fill="#000">4</text>
<text transform="translate(1105.2,1169.4) scale(1,1.028)" text-anchor="middle" font-size="70" font-family="'Liberation Sans', Arial, sans-serif" fill="#000">5</text>
<text transform="translate(1277.9,1169.4) scale(1,1.028)" text-anchor="middle" font-size="70" font-family="'Liberation Sans', Arial, sans-serif" fill="#000">6</text>
<text transform="translate(1450.6,1169.4) scale(1,1.028)" text-anchor="middle" font-size="70" font-family="'Liberation Sans', Arial, sans-serif" fill="#000">7</text>
<text transform="translate(889.5,1287) scale(1,1.03)" text-anchor="middle" font-size="78.5" font-family="'Liberation Sans', Arial, sans-serif" fill="#000">Distance (mm)</text>
<text transform="translate(75.8,571.5) rotate(-90) scale(1,1.03)" text-anchor="middle" font-size="78.5" font-family="'Liberation Sans', Arial, sans-serif" fill="#000">Vickers Microhardness (HV)</text>
<rect x="868.7" y="70.5" width="646" height="243.7" fill="#fff" stroke="#a0a0a0" stroke-width="2.7"/>
<line x1="873.5" y1="114.3" x2="1023.5" y2="114.3" stroke="#000" stroke-width="6.9"/>
<rect x="936.6" y="102.7" width="23.2" height="23.2" fill="#000"/>
<text transform="translate(1036.5,136.2) scale(1,1.045)" font-size="64.5" font-family="'Liberation Sans', Arial, sans-serif" fill="#000">Experiment</text>
<line x1="873.5" y1="192.8" x2="1023.5" y2="192.8" stroke="#ff0000" stroke-width="6.9"/>
<rect x="936.6" y="181.2" width="23.2" height="23.2" fill="#ff0000"/>
<text transform="translate(1036.5,214.6) scale(1,1.045)" font-size="64.5" font-family="'Liberation Sans', Arial, sans-serif" fill="#000">ANN</text>
<line x1="873.5" y1="271.2" x2="1023.5" y2="271.2" stroke="#0000ff" stroke-width="6.9"/>
<rect x="936.6" y="259.6" width="23.2" height="23.2" fill="#0000ff"/>
<text transform="translate(1036.5,293.1) scale(1,1.045)" font-size="64.5" font-family="'Liberation Sans', Arial, sans-serif" fill="#000">GAN-aided ANN</text>
</svg>
</body></html>
